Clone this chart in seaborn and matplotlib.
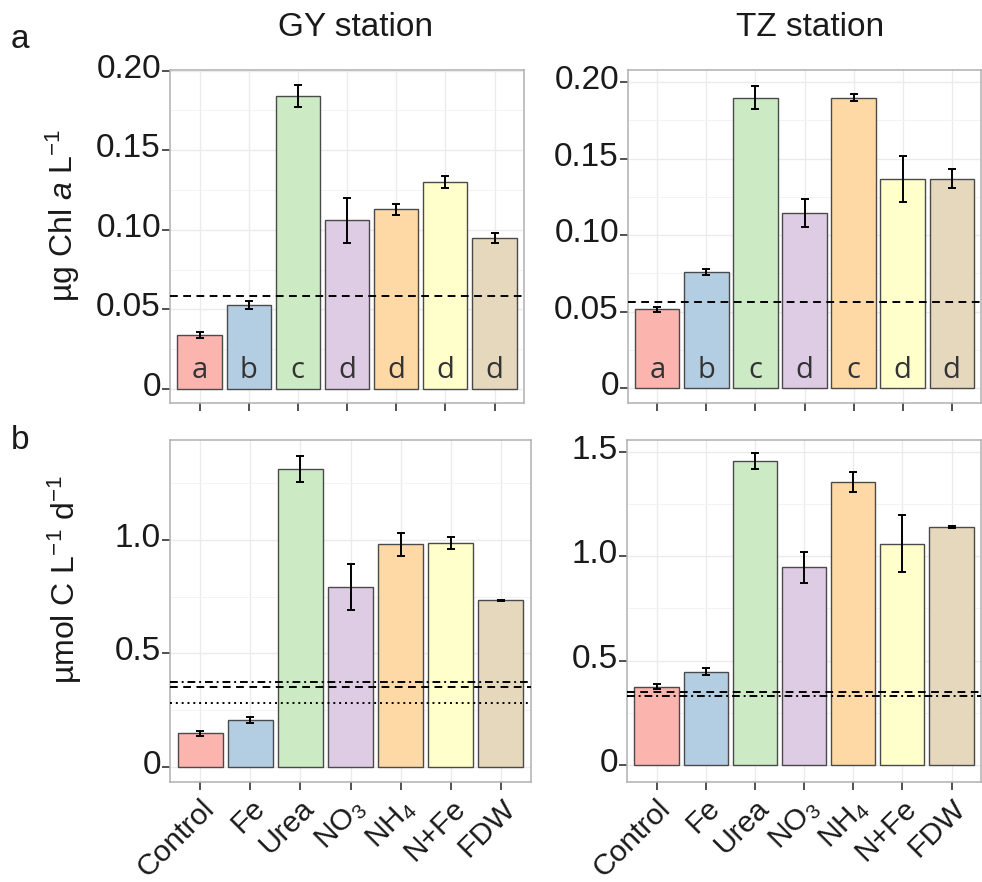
import matplotlib
matplotlib.use("Agg")
import matplotlib.pyplot as plt
import matplotlib.transforms as mtransforms
from matplotlib.ticker import FixedLocator, MultipleLocator
import numpy as np
import pandas as pd
import seaborn as sns

# ---------------- data ----------------
treatments = ["Control", "Fe", "Urea", "NO3", "NH4", "N+Fe", "FDW"]
tick_labels = ["Control", "Fe", "Urea", "NO$_3$", "NH$_4$", "N+Fe", "FDW"]
bar_colors = ["#FBB4AE", "#B3CDE3", "#CCEBC5", "#DECBE4", "#FED9A6", "#FFFFCC", "#E5D8BD"]

gy_chl = [0.034, 0.053, 0.184, 0.106, 0.113, 0.130, 0.095]
gy_chl_err = [0.0017, 0.0025, 0.007, 0.014, 0.0035, 0.004, 0.003]
tz_chl = [0.0516, 0.0759, 0.1898, 0.1145, 0.1898, 0.1364, 0.1369]
tz_chl_err = [0.0015, 0.002, 0.0076, 0.0093, 0.0021, 0.015, 0.006]

gy_c = [0.148, 0.2085, 1.313, 0.7915, 0.981, 0.988, 0.734]
gy_c_err = [0.011, 0.013, 0.057, 0.102, 0.05, 0.026, 0.003]
tz_c = [0.375, 0.447, 1.457, 0.946, 1.355, 1.059, 1.139]
tz_c_err = [0.012, 0.018, 0.038, 0.074, 0.048, 0.137, 0.004]

gy_letters = ["a", "b", "c", "d", "d", "d", "d"]
tz_letters = ["a", "b", "c", "d", "c", "d", "d"]

gy_chl_ref = [(0.0587, "dashed")]
tz_chl_ref = [(0.0564, "dashed")]
gy_c_ref = [(0.376, "dashdot"), (0.351, "dashed"), (0.283, "dotted")]
tz_c_ref = [(0.351, "dashed"), (0.331, "dashdot")]

chl_ticks = [0, 0.05, 0.10, 0.15, 0.20]
chl_ticklabels = ["0", "0.05", "0.10", "0.15", "0.20"]
c_ticks_gy = [0, 0.5, 1.0]
c_ticks_tz = [0, 0.5, 1.0, 1.5]

LINESTYLES = {"dashed": (0, (4, 2.8)), "dashdot": (0, (4, 2, 1, 2)), "dotted": (0, (1, 2))}

# ---------------- style ----------------
sns.set_theme(style="white")
plt.rcParams["font.family"] = ["Liberation Sans", "DejaVu Sans"]
plt.rcParams["mathtext.fontset"] = "custom"
plt.rcParams["mathtext.rm"] = "Liberation Sans"
plt.rcParams["mathtext.it"] = "Liberation Sans:italic"
plt.rcParams["mathtext.default"] = "regular"

TXT = "#1a1a1a"
fig = plt.figure(figsize=(9.82, 8.82), dpi=100)


def add_ax(l, t, r, b):
    return fig.add_axes([l / 982, 1 - b / 882, (r - l) / 982, (b - t) / 882])


def panel(ax, vals, errs, refs, ylim, ticks, ticklabels, minor, letters=None, xlabels=False):
    df = pd.DataFrame({"treatment": treatments, "value": vals})
    sns.barplot(data=df, x="treatment", y="value", hue="treatment", palette=bar_colors,
                order=treatments, hue_order=treatments, width=0.9, edgecolor="#4a4a4a",
                linewidth=1.0, legend=False, ax=ax, zorder=2, saturation=1)
    ax.errorbar(np.arange(len(treatments)), vals, yerr=errs, fmt="none", ecolor="black",
                elinewidth=1.4, capsize=2.8, capthick=1.4, zorder=5)
    for y, ls in refs:
        ax.axhline(y, color="black", lw=1.4, ls=LINESTYLES[ls], zorder=6)
    if letters is not None:
        for i, lt in enumerate(letters):
            ax.text(i, 0.007, lt, ha="center", va="baseline", fontsize=21,
                    color="#333333", family=["Open Sans", "DejaVu Sans"], zorder=7)
    ax.set_xlim(-0.6, 6.6)
    ax.set_ylim(*ylim)
    ax.yaxis.set_major_locator(FixedLocator(ticks))
    ax.set_yticklabels(ticklabels)
    ax.yaxis.set_minor_locator(MultipleLocator(minor))
    ax.set_facecolor("white")
    ax.grid(True, which="major", color="#EBEBEB", lw=1.0, zorder=0)
    ax.grid(True, which="minor", axis="y", color="#F3F3F3", lw=0.7, zorder=0)
    ax.set_axisbelow(True)
    for s in ax.spines.values():
        s.set_color("#B0B0B0")
        s.set_linewidth(1.1)
    ax.tick_params(axis="both", which="major", direction="out", length=5.5, width=1.2,
                   color="#333333", labelsize=24, labelcolor=TXT, pad=1,
                   left=True, bottom=True, top=False, right=False)
    ax.tick_params(axis="y", which="minor", length=0)
    ax.set_xlabel("")
    ax.set_ylabel("")
    ax.set_xticks(range(len(treatments)))
    if xlabels:
        ax.set_xticklabels(tick_labels, rotation=45, ha="right", rotation_mode="anchor",
                           fontsize=21.5, color=TXT)
        ax.tick_params(axis="x", pad=3)
    else:
        ax.set_xticklabels([])
    off = mtransforms.ScaledTranslation(0, 5 / 100, fig.dpi_scale_trans)
    for lab in ax.get_yticklabels():
        lab.set_transform(lab.get_transform() + off)


ax_tl = add_ax(170, 70, 524, 403)
ax_tr = add_ax(628, 70, 981, 403)
ax_bl = add_ax(170, 440, 531, 782)
ax_br = add_ax(627, 440, 981, 782)

panel(ax_tl, gy_chl, gy_chl_err, gy_chl_ref, (-0.0088, 0.2004), chl_ticks, chl_ticklabels,
      0.025, letters=gy_letters)
panel(ax_tr, tz_chl, tz_chl_err, tz_chl_ref, (-0.0096, 0.2078), chl_ticks, chl_ticklabels,
      0.025, letters=tz_letters)
panel(ax_bl, gy_c, gy_c_err, gy_c_ref, (-0.066, 1.44), c_ticks_gy, ["0", "0.5", "1.0"],
      0.25, xlabels=True)
panel(ax_br, tz_c, tz_c_err, tz_c_ref, (-0.081, 1.556), c_ticks_tz, ["0", "0.5", "1.0", "1.5"],
      0.25, xlabels=True)

# titles
fig.text(356 / 982, 1 - 27 / 882, "GY station", ha="center", va="center", fontsize=24, color=TXT)
fig.text(810 / 982, 1 - 27 / 882, "TZ station", ha="center", va="center", fontsize=24, color=TXT)
# panel letters
fig.text(20 / 982, 1 - 40 / 882, "a", ha="center", va="center", fontsize=24, color=TXT)
fig.text(20 / 982, 1 - 440 / 882, "b", ha="center", va="center", fontsize=24, color=TXT)
# y labels
fig.text(63 / 982, 1 - 215 / 882, "µg Chl $\\it{a}$ L$^{-1}$", rotation=90, ha="center",
         va="center", fontsize=23, color=TXT)
fig.text(65 / 982, 1 - 580 / 882, "µmol C L$^{-1}$ d$^{-1}$", rotation=90, ha="center",
         va="center", fontsize=23, color=TXT)

fig.savefig("out.png", dpi=100, facecolor="white")
